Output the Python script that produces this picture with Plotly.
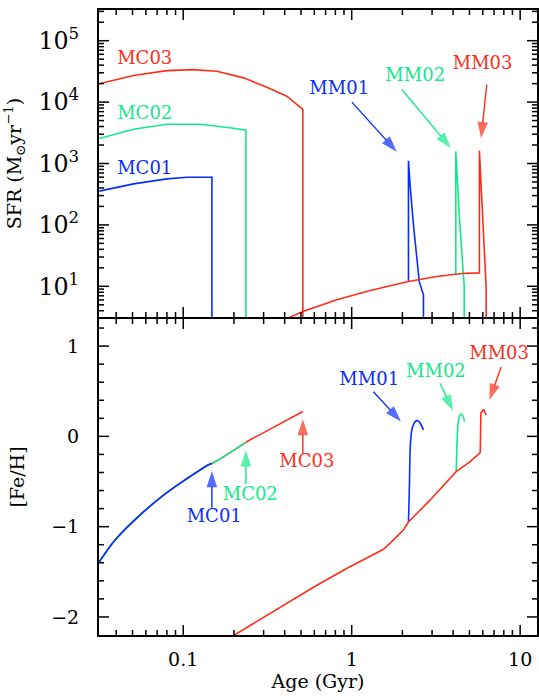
import math
import plotly.graph_objects as go

BLUE = "#0a2dff"
GREEN = "#12e98a"
RED = "#ff2d1a"
FONT = "DejaVu Serif"

# ---------------- top panel: SFR (Msun/yr) vs age (Gyr) ----------------
mc01_age = [0.0317, 0.0507, 0.080, 0.105, 0.1445, 0.148, 0.148]
mc01_sfr = [355, 466, 561, 598, 598, 600, 1]

mc02_age = [0.0317, 0.0507, 0.080, 0.126, 0.199, 0.2355, 0.2355]
mc02_sfr = [2560, 3610, 4355, 4355, 3750, 3480, 1]

mc03_age = [0.0317, 0.0507, 0.080, 0.1127, 0.1585, 0.228, 0.314, 0.412, 0.513, 0.513]
mc03_sfr = [19860, 27040, 32580, 33810, 31770, 24830, 17500, 12500, 7620, 1]

mm01_age = [2.173, 2.173, 2.223, 2.328, 2.518, 2.667, 2.667]
mm01_sfr = [12.0, 1110, 438, 98.4, 11.9, 7.24, 1]

mm02_age = [4.15, 4.15, 4.365, 4.60, 4.656, 4.656]
mm02_sfr = [15.7, 1574, 126, 12.0, 10.0, 1]

mm03_age = [0.40, 0.4315, 0.5176, 0.8166, 1.288, 2.173, 3.199, 4.508, 5.728, 5.728, 6.28, 6.30]
mm03_sfr = [2.88, 3.16, 3.92, 6.03, 8.57, 12.0, 14.45, 16.14, 16.52, 1610, 9.8, 1]

# ---------------- bottom panel: [Fe/H] vs age (Gyr) ----------------
mc01_feh_age = [0.0315, 0.0395, 0.0543, 0.0748, 0.0975, 0.1445, 0.148]
mc01_feh = [-1.40, -1.146, -0.886, -0.665, -0.51, -0.306, -0.30]

mc02_feh_age = mc01_feh_age + [0.19, 0.2355]
mc02_feh = mc01_feh + [-0.18, -0.066]

mc03_feh_age = mc02_feh_age + [0.328, 0.513]
mc03_feh = mc02_feh + [0.08, 0.275]

mm01_feh_age = [2.173, 2.203, 2.223, 2.275, 2.383, 2.472, 2.553, 2.667]
mm01_feh = [-0.948, -0.52, -0.151, 0.071, 0.163, 0.174, 0.145, 0.071]

mm02_feh_age = [4.17, 4.207, 4.266, 4.365, 4.508, 4.677]
mm02_feh = [-0.391, -0.151, 0.107, 0.226, 0.248, 0.163]

mm03_feh_age = [0.178, 0.377, 0.593, 0.938, 1.545, 1.77, 2.028, 2.173, 2.924, 4.17, 5.047, 5.794,
                5.794, 5.848, 6.067, 6.28]
mm03_feh = [-2.26, -1.893, -1.671, -1.461, -1.25, -1.147, -1.037, -0.948, -0.704, -0.391, -0.28, -0.181,
            0.034, 0.258, 0.30, 0.236]

# ---------------- label texts and arrow positions (log10 age; log10 SFR on top) ----------------
top_labels = ["MC03", "MC02", "MC01", "MM01", "MM02", "MM03"]
top_label_x = [-1.392, -1.392, -1.392, -0.074, 0.377, 0.777]
top_label_y = [4.69, 3.80, 2.895, 4.206, 4.42, 4.61]
top_label_col = [RED, GREEN, BLUE, BLUE, GREEN, RED]
top_label_pos = ["middle right", "middle right", "middle right",
                 "middle center", "middle center", "middle center"]
top_arrows = [(0.001, 4.0, 0.298, 3.10, BLUE),
              (0.298, 4.206, 0.618, 3.154, GREEN),
              (0.802, 4.286, 0.763, 3.288, RED)]

bot_labels = ["MC01", "MC02", "MC03", "MM01", "MM02", "MM03"]
bot_label_x = [-0.816, -0.602, -0.266, 0.104, 0.500, 0.875]
bot_label_y = [-0.90, -0.655, -0.29, 0.619, 0.708, 0.907]
bot_label_col = [BLUE, GREEN, RED, BLUE, GREEN, RED]
bot_arrows = [(-0.830, -0.79, -0.830, -0.30, BLUE),
              (-0.628, -0.53, -0.628, -0.07, GREEN),
              (-0.290, -0.195, -0.290, 0.275, RED),
              (0.129, 0.495, 0.323, 0.101, BLUE),
              (0.525, 0.588, 0.620, 0.204, GREEN),
              (0.887, 0.768, 0.802, 0.322, RED)]

# axis ranges (log10 for log axes)
X_RANGE = [-1.5, 1.1]
SFR_RANGE = [0.5, 5.5]
FEH_RANGE = [-2.2, 1.3]
TOP_DOMAIN = [0.5088, 1]
BOT_DOMAIN = [0, 0.5056]

# tick values
x_major = [0.1, 1, 10]
x_minor = [k * 10.0 ** e for e in (-2, -1, 0, 1) for k in range(2, 10)]
sfr_major = [10.0 ** e for e in range(1, 6)]
sfr_minor = [k * 10.0 ** e for e in range(0, 6) for k in range(2, 10)]
feh_major = [-2, -1, 0, 1]
feh_minor = [round(-2.2 + 0.2 * i, 1) for i in range(18)]
feh_minor = [v for v in feh_minor if abs(v - round(v)) > 1e-6]

W, H = 539, 696
ML, MR, MT, MB = 99, 2, 10, 61
plot_w = W - ML - MR
plot_h = H - MT - MB
px_x = plot_w / (X_RANGE[1] - X_RANGE[0])
px_top = plot_h * (TOP_DOMAIN[1] - TOP_DOMAIN[0]) / (SFR_RANGE[1] - SFR_RANGE[0])
px_bot = plot_h * (BOT_DOMAIN[1] - BOT_DOMAIN[0]) / (FEH_RANGE[1] - FEH_RANGE[0])

fig = go.Figure()

def add(x, y, color, top, smooth=False):
    line = dict(color=color, width=1.6)
    if smooth:
        line.update(shape="spline", smoothing=0.8)
    fig.add_trace(go.Scatter(
        x=x, y=y, mode="lines", line=line,
        xaxis="x2" if top else "x", yaxis="y2" if top else "y",
        showlegend=False, hoverinfo="skip"))

add(mc03_age, mc03_sfr, RED, True)
add(mc02_age, mc02_sfr, GREEN, True)
add(mc01_age, mc01_sfr, BLUE, True)
add(mm01_age, mm01_sfr, BLUE, True)
add(mm02_age, mm02_sfr, GREEN, True)
add(mm03_age, mm03_sfr, RED, True)

add(mc03_feh_age, mc03_feh, RED, False, smooth=True)
add(mc02_feh_age, mc02_feh, GREEN, False, smooth=True)
add(mc01_feh_age, mc01_feh, BLUE, False, smooth=True)
add(mm01_feh_age, mm01_feh, BLUE, False, smooth=True)
add(mm02_feh_age, mm02_feh, GREEN, False, smooth=True)
add(mm03_feh_age, mm03_feh, RED, False)

# ---------------- inside tick marks on all four sides ----------------
def tick_trace(top):
    xs, ys = [], []
    lo_x, hi_x = 10 ** X_RANGE[0], 10 ** X_RANGE[1]
    if top:
        ylo, yhi = SFR_RANGE
        yconv = lambda v: 10 ** v
        ymaj, ymin_, sy = sfr_major, sfr_minor, 1.0 / px_top
        in_y = lambda v: 10 ** SFR_RANGE[0] < v < 10 ** SFR_RANGE[1]
    else:
        ylo, yhi = FEH_RANGE
        yconv = lambda v: v
        ymaj, ymin_, sy = feh_major, feh_minor, 1.0 / px_bot
        in_y = lambda v: FEH_RANGE[0] < v < FEH_RANGE[1]
    sx = 1.0 / px_x
    for vals, L in ((x_major, 10), (x_minor, 5)):
        for v in vals:
            if lo_x < v < hi_x:
                xs += [v, v, None, v, v, None]
                ys += [yconv(ylo), yconv(ylo + L * sy), None,
                       yconv(yhi), yconv(yhi - L * sy), None]
    for vals, L in ((ymaj, 10), (ymin_, 5)):
        for v in vals:
            if in_y(v):
                xs += [lo_x, 10 ** (X_RANGE[0] + L * sx), None,
                       hi_x, 10 ** (X_RANGE[1] - L * sx), None]
                ys += [v, v, None, v, v, None]
    fig.add_trace(go.Scatter(x=xs, y=ys, mode="lines", line=dict(color="black", width=1.5),
                             xaxis="x2" if top else "x", yaxis="y2" if top else "y",
                             showlegend=False, hoverinfo="skip"))

tick_trace(True)
tick_trace(False)

# ---------------- arrows (shaft + head marker) ----------------
HEAD = 17

def draw_arrow(lx0, ly0, lx1, ly1, color, top):
    py = px_top if top else px_bot
    dx = (lx1 - lx0) * px_x
    dy = (ly1 - ly0) * py
    L = math.hypot(dx, dy)
    back = HEAD * 0.45
    lxa = lx1 - dx / L * back / px_x
    lya = ly1 - dy / L * back / py
    xs = [10 ** lx0, 10 ** lxa]
    ys = [10 ** ly0, 10 ** lya] if top else [ly0, lya]
    fig.add_trace(go.Scatter(
        x=xs, y=ys, mode="lines+markers",
        line=dict(color=color, width=1.4),
        marker=dict(symbol="arrow", size=[0, HEAD], angleref="previous", color=color,
                    line=dict(width=0)),
        xaxis="x2" if top else "x", yaxis="y2" if top else "y",
        showlegend=False, hoverinfo="skip", cliponaxis=False))

for a in top_arrows:
    draw_arrow(*a, True)
for a in bot_arrows:
    draw_arrow(*a, False)

# ---------------- text labels ----------------
for t, lx, ly, c, pos in zip(top_labels, top_label_x, top_label_y, top_label_col, top_label_pos):
    xoff = 0
    fig.add_trace(go.Scatter(
        x=[10 ** lx], y=[10 ** ly], mode="text", text=[t], textposition=pos,
        textfont=dict(family=FONT, size=18, color=c),
        xaxis="x2", yaxis="y2", showlegend=False, hoverinfo="skip", cliponaxis=False))
for t, lx, ly, c in zip(bot_labels, bot_label_x, bot_label_y, bot_label_col):
    fig.add_trace(go.Scatter(
        x=[10 ** lx], y=[ly], mode="text", text=[t], textposition="middle center",
        textfont=dict(family=FONT, size=18, color=c),
        xaxis="x", yaxis="y", showlegend=False, hoverinfo="skip", cliponaxis=False))

# ---------------- axes (labels, titles and frame) ----------------
tickfont = dict(family=FONT, size=19, color="black")
title_font = dict(family=FONT, size=19, color="black")
common = dict(showline=True, linecolor="black", linewidth=2, mirror=True, ticks="",
              showgrid=False, zeroline=False, tickfont=tickfont, automargin=False)

fig.update_layout(
    template="simple_white",
    width=W, height=H,
    margin=dict(l=ML, r=MR, t=MT, b=MB),
    paper_bgcolor="white", plot_bgcolor="white",
    xaxis=dict(type="log", range=X_RANGE, anchor="y", domain=[0, 1],
               dtick=1, tick0=0, ticklabelstandoff=6,
               title=dict(text="Age (Gyr)", font=title_font, standoff=4), **common),
    xaxis2=dict(type="log", range=X_RANGE, anchor="y2", domain=[0, 1], matches="x",
                dtick=1, tick0=0, showticklabels=False, **common),
    yaxis=dict(range=FEH_RANGE, domain=BOT_DOMAIN, anchor="x",
               dtick=1, tick0=0, ticklabelstandoff=14,
               title=dict(text="[Fe/H]", font=title_font, standoff=22), **common),
    yaxis2=dict(type="log", range=SFR_RANGE, domain=TOP_DOMAIN, anchor="x2",
                dtick=1, tick0=0, exponentformat="power", showexponent="all",
                labelalias={"10": "10<sup>1</sup>"}, ticklabelstandoff=14,
                title=dict(text="SFR (M<sub>\u2299</sub>yr<sup>\u22121</sup>)", font=title_font,
                           standoff=12),
                **common),
)

fig.write_html("out.html")
